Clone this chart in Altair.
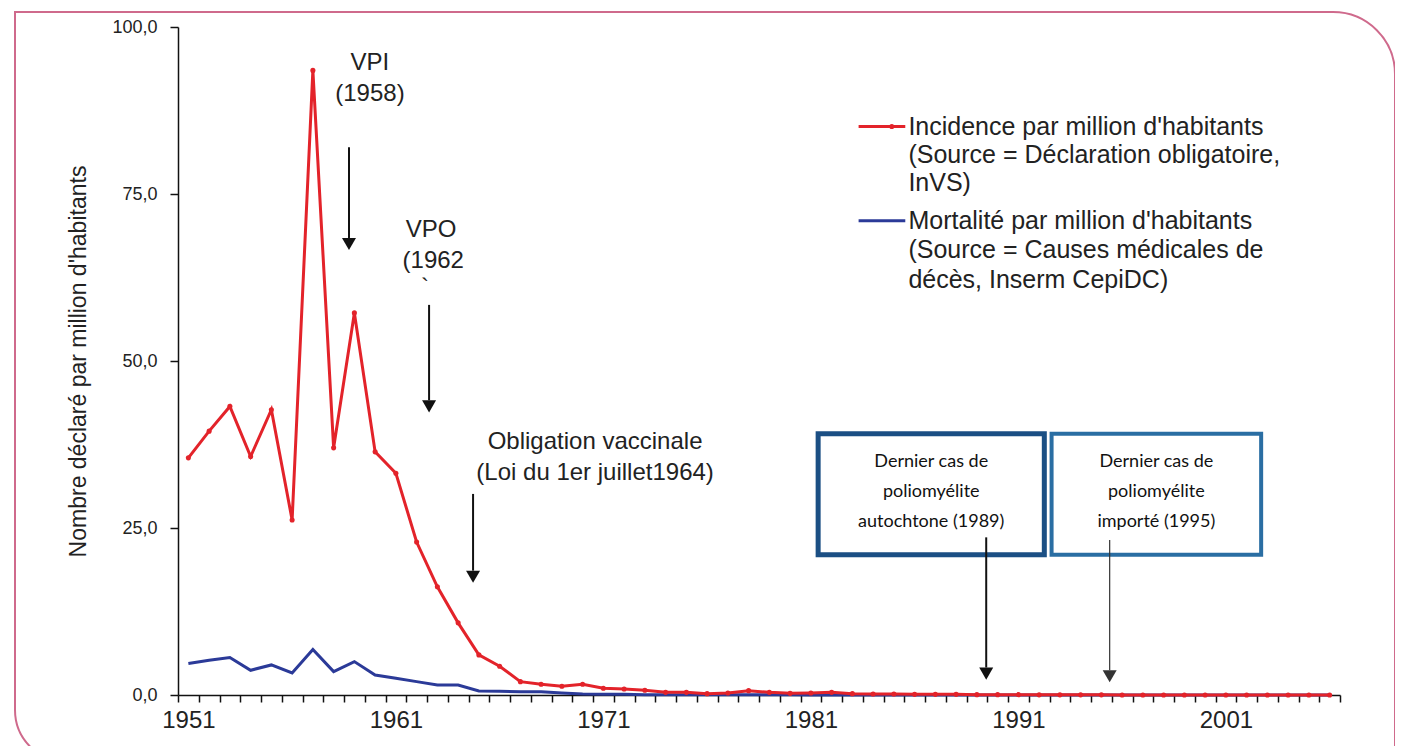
import altair as alt
import pandas as pd

# ---------------- data ----------------
years = list(range(1951, 2007))
incidence = [35.5, 39.5, 43.2, 35.7, 42.7, 26.2, 93.5, 37.0, 57.2, 36.4,
             33.2, 22.9, 16.2, 10.8, 6.0, 4.3, 2.0, 1.6, 1.3, 1.6,
             1.0, 0.9, 0.7, 0.4, 0.4, 0.2, 0.3, 0.65, 0.4, 0.25,
             0.3, 0.4, 0.2, 0.15, 0.15, 0.1, 0.1, 0.1, 0.05, 0.05,
             0.05, 0.02, 0.02, 0.02, 0.02, 0.0, 0.0, 0.0, 0.0, 0.0,
             0.0, 0.0, 0.0, 0.0, 0.0, 0.0]
mortalite = [4.7, 5.2, 5.6, 3.7, 4.5, 3.3, 6.8, 3.5, 5.0, 3.0,
             2.5, 2.0, 1.5, 1.5, 0.6, 0.55, 0.5, 0.5, 0.3, 0.15,
             0.1, 0.1, 0.05, 0.05, 0.03, 0.02, 0.02, 0.02, 0.02, 0.02,
             0.0, 0.0, 0.0, 0.0, 0.0, 0.0, 0.0, 0.0, 0.0, 0.0,
             0.0, 0.0, 0.0, 0.0, 0.0, 0.0, 0.0, 0.0, 0.0, 0.0,
             0.0, 0.0, 0.0, 0.0, 0.0, 0.0]

y_ticks = [0, 25, 50, 75, 100]
x_ticks = [y - 0.5 for y in range(1951, 2008)]   # tick marks between categories

y_title = "Nombre déclaré par million d'habitants"

legend_red = ["Incidence par million d'habitants",
              "(Source = Déclaration obligatoire,",
              "InVS)"]
legend_blue = ["Mortalité par million d'habitants",
               "(Source = Causes médicales de",
               "décès, Inserm CepiDC)"]

box1_lines = ["Dernier cas de", "poliomyélite", "autochtone  (1989)"]
box2_lines = ["Dernier cas de", "poliomyélite", "importé (1995)"]

# ---------------- layout / style ----------------
W, H = 1162, 668
X_MIN, X_MAX = 1950.5, 2006.5
PX_YEAR = W / (X_MAX - X_MIN)
PX_UNIT = H / 100.0
RED = "#e3232a"
BLUE = "#2b3a98"
INK = "#222222"
FONT = "Liberation Sans"
BOXFONT = "Lato"

XSC = alt.Scale(domain=[X_MIN, X_MAX], nice=False, zero=False)
YSC = alt.Scale(domain=[0, 100], nice=False)

x_axis = alt.Axis(values=x_ticks,
                  labelExpr="(datum.value - 0.5) % 10 == 0 ? toString(datum.value + 0.5) : ''",
                  labelOffset=PX_YEAR / 2, labelFlush=False, labelOverlap=False,
                  labelBound=False, labelFont=FONT, labelFontSize=24,
                  labelColor=INK, labelPadding=6, tickSize=7, tickColor="#111",
                  tickWidth=1.5, domainColor="#111", domainWidth=1.5,
                  grid=False, title=None)
y_axis = alt.Axis(values=y_ticks, format=".1f",
                  labelExpr="replace(datum.label, '.', ',')",
                  labelFont=FONT, labelFontSize=18, labelColor=INK,
                  labelPadding=13, tickSize=8, tickColor="#111", tickWidth=1.5,
                  domainColor="#111", domainWidth=1.5, grid=False,
                  title=y_title, titleFont=FONT, titleFontSize=23,
                  titleFontWeight="normal", titleColor=INK,
                  titleX=-100, titleY=H / 2, titleAngle=270,
                  titleAlign="center", titleBaseline="middle")


def X(f="x"):
    return alt.X(f"{f}:Q", scale=XSC, axis=x_axis, title=None)


def Y(f="y"):
    return alt.Y(f"{f}:Q", scale=YSC, axis=y_axis, title=y_title)


# ---------------- series ----------------
df = pd.DataFrame({"x": years, "inc": incidence, "mort": mortalite})

blue_line = alt.Chart(df).mark_line(color=BLUE, strokeWidth=3).encode(
    x=X(), y=Y("mort"))
red_line = alt.Chart(df).mark_line(
    color=RED, strokeWidth=3,
    point=alt.OverlayMarkDef(color=RED, filled=True, size=26)).encode(
    x=X(), y=Y("inc"))

# ---------------- annotations ----------------
ann = pd.DataFrame([
    {"x": 1959.75, "y": 94.6, "t": "VPI"},
    {"x": 1959.75, "y": 90.0, "t": "(1958)"},
    {"x": 1962.7, "y": 69.6, "t": "VPO"},
    {"x": 1962.8, "y": 64.9, "t": "(1962"},
    {"x": 1962.4, "y": 61.0, "t": "`"},
    {"x": 1970.6, "y": 37.9, "t": "Obligation vaccinale"},
    {"x": 1970.6, "y": 33.3, "t": "(Loi du 1er juillet1964)"},
])
ann_text = alt.Chart(ann).mark_text(font=FONT, fontSize=24, color=INK,
                                    align="center", baseline="middle").encode(
    x=X(), y=Y(), text="t:N")

# arrows: x, start, tip, width, colour
arrows = pd.DataFrame([
    {"x": 1958.74, "y": 82.0, "tip": 66.6, "w": 2.0, "c": "#111"},
    {"x": 1962.6, "y": 58.4, "tip": 42.3, "w": 2.0, "c": "#111"},
    {"x": 1964.72, "y": 30.1, "tip": 16.8, "w": 2.0, "c": "#111"},
    {"x": 1989.45, "y": 23.6, "tip": 2.3, "w": 2.0, "c": "#111"},
    {"x": 1995.4, "y": 23.2, "tip": 1.9, "w": 1.2, "c": "#333"},
])
HEAD_W = 14
HEAD_H = 0.866 * HEAD_W
arrows["head"] = arrows["tip"] + (HEAD_H / 2) / PX_UNIT
arrows["shaft"] = arrows["tip"] + HEAD_H / PX_UNIT

arrow_rules = alt.Chart(arrows).mark_rule().encode(
    x=X(), y=Y(), y2=alt.Y2("shaft:Q"),
    strokeWidth=alt.StrokeWidth("w:Q", scale=None),
    color=alt.Color("c:N", scale=None))
arrow_heads = alt.Chart(arrows).mark_point(shape="triangle-down", filled=True,
                                           size=HEAD_W ** 2, opacity=1).encode(
    x=X(), y=Y("head"), color=alt.Color("c:N", scale=None))

# legend (drawn manually)
leg_lines = pd.DataFrame([
    {"x": 1983.3, "x2": 1985.55, "y": 85.1, "c": RED},
    {"x": 1983.3, "x2": 1985.55, "y": 71.0, "c": BLUE},
])
leg_rules = alt.Chart(leg_lines).mark_rule(strokeWidth=3).encode(
    x=X(), x2=alt.X2("x2:Q"), y=Y(), color=alt.Color("c:N", scale=None))
leg_dot = alt.Chart(pd.DataFrame([{"x": 1984.9, "y": 85.1}])).mark_point(
    filled=True, color=RED, size=26, opacity=1).encode(x=X(), y=Y())

leg_rows = []
for i, t in enumerate(legend_red):
    leg_rows.append({"x": 1985.7, "y": 85.1 - i * 4.2, "t": t})
for i, t in enumerate(legend_blue):
    leg_rows.append({"x": 1985.7, "y": 71.0 - i * 4.4, "t": t})
leg_text = alt.Chart(pd.DataFrame(leg_rows)).mark_text(
    font=FONT, fontSize=25, color=INK, align="left", baseline="middle").encode(
    x=X(), y=Y(), text="t:N")

# boxes
boxes = pd.DataFrame([
    {"x": 1981.35, "x2": 1992.25, "y": 39.1, "y2": 21.0, "c": "#1b4f84", "w": 5},
    {"x": 1992.6, "x2": 2002.7, "y": 39.1, "y2": 21.0, "c": "#2a6ea3", "w": 4},
])
box_rects = alt.Chart(boxes).mark_rect(fillOpacity=0, fill="white").encode(
    x=X(), x2=alt.X2("x2:Q"), y=Y(), y2=alt.Y2("y2:Q"),
    stroke=alt.Stroke("c:N", scale=None),
    strokeWidth=alt.StrokeWidth("w:Q", scale=None))

box_rows = []
for i, t in enumerate(box1_lines):
    box_rows.append({"x": 1986.8, "y": 34.9 - i * 4.5, "t": t})
for i, t in enumerate(box2_lines):
    box_rows.append({"x": 1997.65, "y": 34.9 - i * 4.5, "t": t})
box_text = alt.Chart(pd.DataFrame(box_rows)).mark_text(
    font=BOXFONT, fontSize=18, color="#111", align="center",
    baseline="middle").encode(x=X(), y=Y(), text="t:N")

# decorative frame (pink rounded border around the figure)
frame = alt.Chart(alt.Data(values=[{}])).mark_rect(
    fillOpacity=0, fill="white", stroke="#cf6a8c", strokeWidth=2,
    cornerRadiusTopRight=62, cornerRadiusBottomLeft=52).encode(
    x=alt.value(-163), x2=alt.value(1217), y=alt.value(-15), y2=alt.value(735))

chart = alt.layer(
    frame, box_rects, blue_line, red_line, arrow_rules, arrow_heads,
    ann_text, leg_rules, leg_dot, leg_text, box_text
).properties(
    width=W, height=H,
    autosize=alt.AutoSizeParams(type="none"),
    padding={"left": 170, "top": 19, "right": 55, "bottom": 51},
    background="white",
).configure_view(stroke=None)

chart.save("out.html", embed_options={"renderer": "svg", "actions": False})
